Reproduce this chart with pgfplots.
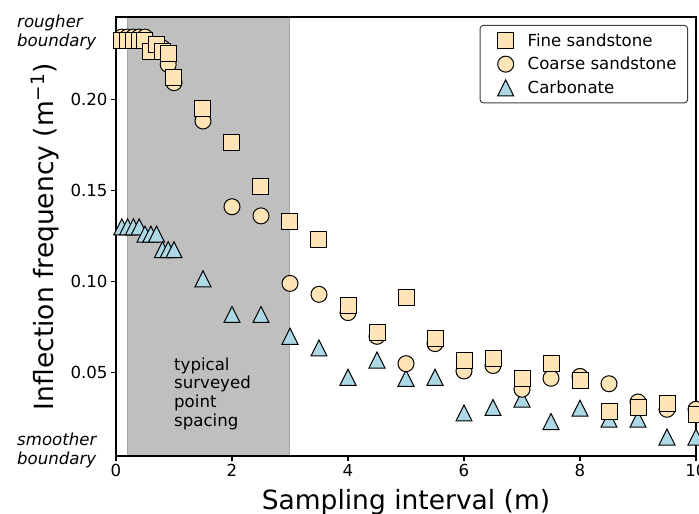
\documentclass[border=0pt]{standalone}
\usepackage{pgfplots}
\pgfplotsset{compat=1.18}
\usepackage{fontspec}
\setmainfont{DejaVu Sans}

\definecolor{sandfill}{RGB}{255,228,181}
\definecolor{carbfill}{RGB}{173,216,230}
\definecolor{shade}{RGB}{191,191,191}
\definecolor{shadeedge}{RGB}{165,165,165}

% matplotlib-like triangle: bbox-centred, width = height
\pgfdeclareplotmark{mtri}{%
  \pgfpathmoveto{\pgfqpoint{0pt}{\pgfplotmarksize}}%
  \pgfpathlineto{\pgfqpoint{-\pgfplotmarksize}{-\pgfplotmarksize}}%
  \pgfpathlineto{\pgfqpoint{\pgfplotmarksize}{-\pgfplotmarksize}}%
  \pgfpathclose
  \pgfusepathqfillstroke}

\newcommand\smallfont{\fontsize{16.6}{18.7}\selectfont}
\newcommand\bigfont{\fontsize{26.5}{31}\selectfont}

\pgfplotstableread{
x y
0.1 0.232
0.2 0.232
0.3 0.232
0.4 0.232
0.5 0.232
0.6 0.226
0.7 0.230
0.8 0.226
0.9 0.225
1.0 0.212
1.5 0.195
2.0 0.176
2.5 0.152
3.0 0.133
3.5 0.123
4.0 0.087
4.5 0.072
5.0 0.091
5.5 0.069
6.0 0.057
6.5 0.058
7.0 0.047
7.5 0.055
8.0 0.046
8.5 0.029
9.0 0.031
9.5 0.033
10.0 0.027
}\finesand

\pgfplotstableread{
x y
0.1 0.234
0.2 0.234
0.3 0.234
0.4 0.234
0.5 0.234
0.6 0.229
0.7 0.229
0.8 0.228
0.9 0.219
1.0 0.209
1.5 0.188
2.0 0.141
2.5 0.136
3.0 0.099
3.5 0.093
4.0 0.083
4.5 0.070
5.0 0.055
5.5 0.066
6.0 0.051
6.5 0.054
7.0 0.041
7.5 0.047
8.0 0.048
8.5 0.044
9.0 0.034
9.5 0.030
10.0 0.030
}\coarsesand

\pgfplotstableread{
x y
0.1 0.130
0.2 0.130
0.3 0.130
0.4 0.130
0.5 0.126
0.6 0.126
0.7 0.126
0.8 0.1175
0.9 0.1175
1.0 0.1175
1.5 0.1015
2.0 0.082
2.5 0.082
3.0 0.070
3.5 0.0636
4.0 0.0475
4.5 0.057
5.0 0.047
5.5 0.0475
6.0 0.028
6.5 0.031
7.0 0.0356
7.5 0.0233
8.0 0.0306
8.5 0.0246
9.0 0.0246
9.5 0.0148
10.0 0.0148
}\carbonate

\begin{document}
\begin{tikzpicture}
\begin{axis}[
  at={(0,0)}, anchor=south west,
  scale only axis, width=580pt, height=439pt,
  xmin=0, xmax=10, ymin=0.0044, ymax=0.245,
  xtick={0,2,4,6,8,10}, ytick={0.05,0.10,0.15,0.20},
  tick pos=left, tick align=outside, major tick length=5pt,
  tick style={black, line width=1.1pt},
  axis line style={line width=1.1pt},
  axis on top,
  clip=false,
  scaled y ticks=false,
  yticklabel style={/pgf/number format/.cd, fixed, fixed zerofill, precision=2},
  /pgf/number format/assume math mode=true,
  ticklabel style={font=\smallfont},
  xlabel={Sampling interval (m)},
  ylabel={Inflection frequency (m\textsuperscript{−1})},
  label style={font=\bigfont},
  xlabel style={at={(axis description cs:0.5,-0.123)}, anchor=base},
  ylabel style={at={(axis description cs:-0.1224,0.5)}, anchor=center},
  legend cell align=left,
  reverse legend,
  legend image code/.code={\path (0pt,0pt); \draw[#1] plot coordinates {(16pt,0pt)};},
  legend style={at={(1,1)}, anchor=north east, xshift=-8pt, yshift=-8pt,
    draw=black!75, line width=1pt, rounded corners=3pt, font=\smallfont,
    row sep=5.5pt, inner xsep=9pt, inner ysep=6pt,
    /tikz/every odd column/.append style={column sep=12pt}},
]
\addplot[fill=shade, draw=shadeedge, line width=1pt, forget plot]
  coordinates {(0.2,0.0044) (3,0.0044) (3,0.245) (0.2,0.245)} -- cycle;

\addplot[only marks, mark=mtri, mark size=8pt,
  mark options={fill=carbfill, draw=black, line width=1pt}] table {\carbonate};
\addlegendentry{Carbonate}
\addplot[only marks, mark=*, mark size=8pt,
  mark options={fill=sandfill, draw=black, line width=1pt}] table {\coarsesand};
\addlegendentry{Coarse sandstone}
\addplot[only marks, mark=square*, mark size=8pt,
  mark options={fill=sandfill, draw=black, line width=1pt}] table {\finesand};
\addlegendentry{Fine sandstone}

\node[anchor=north west, align=left, inner sep=0pt, font=\smallfont]
  at (axis cs:1.0,0.0585) {typical\\surveyed\\point\\spacing};
\node[anchor=north west, align=left, inner sep=0pt, font=\smallfont\itshape]
  at (axis description cs:-0.1707,1.0046) {rougher\\boundary};
\node[anchor=north west, align=left, inner sep=0pt, font=\smallfont\itshape]
  at (axis description cs:-0.1707,0.0524) {smoother\\boundary};
\end{axis}
\pgfresetboundingbox
\path[use as bounding box] (-116pt,-58pt) rectangle (583pt,456pt);
\end{tikzpicture}
\end{document}
